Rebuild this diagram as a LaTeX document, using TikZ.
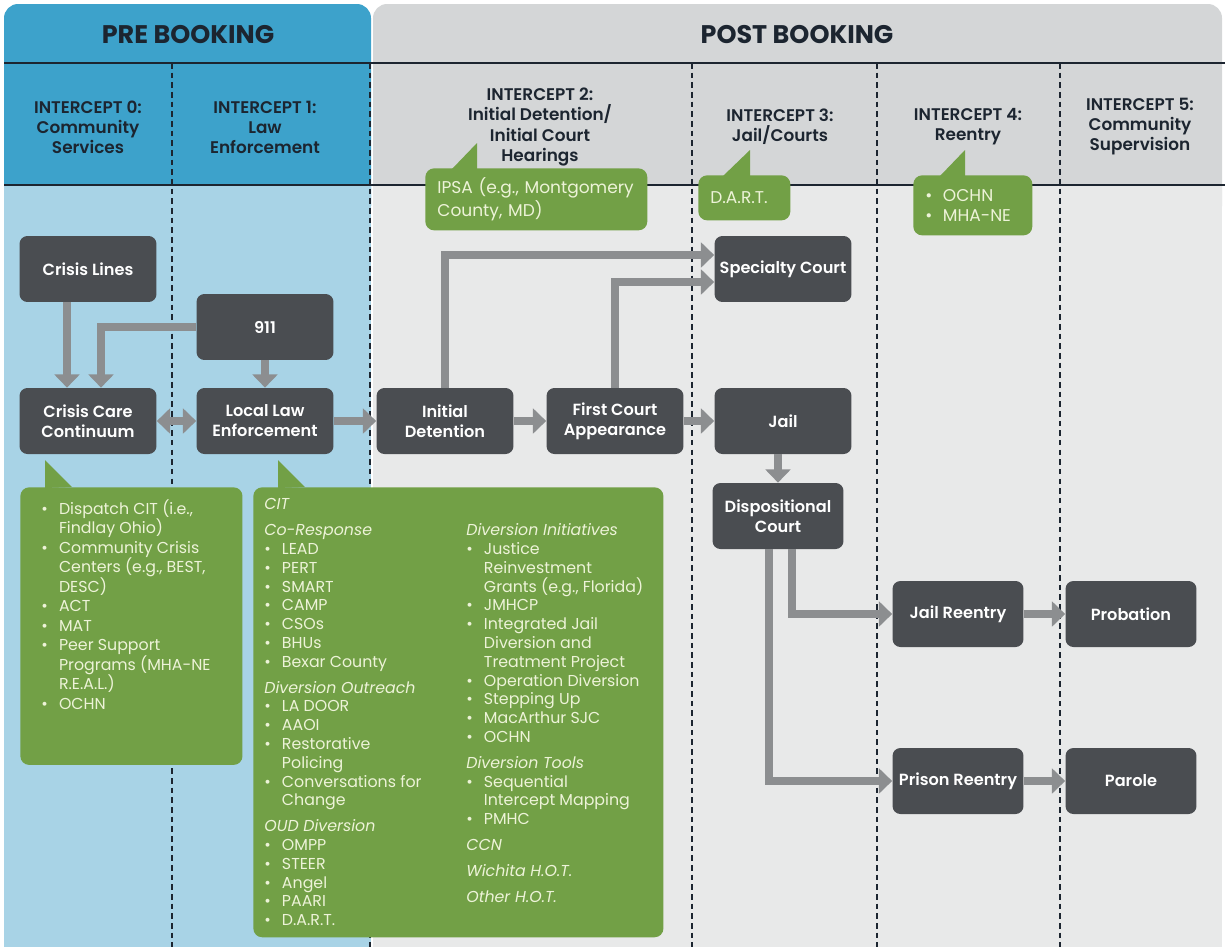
\documentclass[tikz,border=0pt]{standalone}
\usepackage{fontspec}
\setmainfont{Poppins}
\newfontfamily\semi{Poppins SemiBold}
\usetikzlibrary{arrows.meta,calc}

\definecolor{hdrblue}{HTML}{3DA2CB}
\definecolor{bodyblue}{HTML}{A8D3E6}
\definecolor{hdrgrey}{HTML}{D4D6D7}
\definecolor{bodygrey}{HTML}{E8E9E9}
\definecolor{boxgrey}{HTML}{4A4D51}
\definecolor{arrgrey}{HTML}{8C8E90}
\definecolor{leaf}{HTML}{72A046}
\definecolor{leaftext}{HTML}{EDF3D8}
\definecolor{ink}{HTML}{1C2530}

\newcommand\bl{\makebox[10pt][l]{\textbullet}}
\newcommand\ind{\hspace*{10pt}}

\begin{document}
\begin{tikzpicture}[x=0.02cm,y=-0.02cm,
	stage/.style={fill=boxgrey, text=white, rounded corners=4.5pt, minimum width=2.74cm, minimum height=1.32cm, align=center, inner sep=2pt, font=\semi\fontsize{9.2}{11.4}\selectfont},
	flow/.style={draw=arrgrey, line width=4.2pt, -{Triangle[width=14pt,length=7.5pt]}},
	twoway/.style={flow, {Triangle[width=14pt,length=7.5pt]}-{Triangle[width=14pt,length=7.5pt]}},
	note/.style={fill=leaf, text=leaftext, rounded corners=5pt, anchor=north west, align=left, inner xsep=6.5pt},
	tail/.style={fill=leaf},
	divider/.style={draw=ink, line width=0.9pt, dash pattern=on 3.2pt off 2.3pt},
	title/.style={text=ink, font=\bfseries\fontsize{14.5}{16}\selectfont},
	icpt/.style={text=ink, align=center, font=\semi\fontsize{9.6}{11.4}\selectfont}]
	\useasboundingbox (0,0) rectangle (1225,947);

	\fill[hdrblue, rounded corners=8pt] (4,4) rectangle (371,220);
	\fill[bodyblue] (4,185) rectangle (371,947);
	\fill[hdrgrey, rounded corners=8pt] (373,4) rectangle (1222,220);
	\fill[bodygrey] (373,185) rectangle (1222,947);
	\draw[ink, line width=1.6pt] (4,63) -- (1225,63);
	\draw[ink, line width=1.6pt] (4,185) -- (1225,185);
	\foreach \x in {172,370,692,877,1060}
		\draw[divider] (\x,63) -- (\x,947);

	\node[title] (prehead) at (188,35) {PRE BOOKING};
	\node[title] (posthead) at (797,35) {POST BOOKING};
	\node[icpt] (i0) at (88,127) {INTERCEPT 0:\\Community\\Services};
	\node[icpt] (i1) at (265,127) {INTERCEPT 1:\\Law\\Enforcement};
	\node[icpt] (i2) at (540,127) {INTERCEPT 2:\\Initial Detention/\\Initial Court\\Hearings};
	\node[icpt] (i3) at (780,127) {INTERCEPT 3:\\Jail/Courts};
	\node[icpt] (i4) at (968,127) {INTERCEPT 4:\\Reentry};
	\node[icpt] (i5) at (1140,127) {INTERCEPT 5:\\Community\\Supervision};

	\node[stage] (cl) at (88,269) {Crisis Lines};
	\node[stage] (n911) at (265,327) {911};
	\node[stage] (ccc) at (88,421) {Crisis Care\\Continuum};
	\node[stage] (lle) at (265,421) {Local Law\\Enforcement};
	\node[stage] (idet) at (445,421) {Initial\\Detention};
	\node[stage] (fca) at (615,421) {First Court\\Appearance};
	\node[stage] (spc) at (783,269) {Specialty Court};
	\node[stage] (jail) at (783,421) {Jail};
	\node[stage, minimum width=2.62cm] (dispo) at (778,516) {Dispositional\\Court};
	\node[stage, minimum width=2.62cm] (jre) at (958,614) {Jail Reentry};
	\node[stage, minimum width=2.62cm] (prob) at (1131,614) {Probation};
	\node[stage, minimum width=2.62cm] (prisre) at (958,781) {Prison Reentry};
	\node[stage, minimum width=2.62cm] (parole) at (1131,781) {Parole};

	\draw[flow] ($(cl.south)+(-21,0)$) -- ($(ccc.north)+(-21,0)$);
	\draw[flow] (n911.west) -| ($(ccc.north)+(13,0)$);
	\draw[flow] (n911) -- (lle);
	\draw[twoway] (ccc) -- (lle);
	\draw[flow] (lle) -- (idet);
	\draw[flow] (idet) -- (fca);
	\draw[flow] (fca) -- (jail);
	\draw[flow] (idet.north) |- ($(spc.west)+(0,-14)$);
	\draw[flow] (fca.north) |- ($(spc.west)+(0,13)$);
	\draw[flow] (dispo.north |- jail.south) -- (dispo.north);
	\draw[flow] ($(dispo.south)+(14,0)$) |- (jre.west);
	\draw[flow] ($(dispo.south)+(-9,0)$) |- (prisre.west);
	\draw[flow] (jre) -- (prob);
	\draw[flow] (prisre) -- (parole);

	\node[note, minimum width=4.44cm, minimum height=1.24cm, text width=3.96cm, font=\fontsize{9.7}{11.4}\selectfont] (ipsa) at (425,168) {IPSA (e.g., Montgomery\\County, MD)};
	\fill[tail] ($(ipsa.north west)+(27,1)$) -- ++(25,-26) -- ++(0,26) -- cycle;
	\node[note, minimum width=1.84cm, minimum height=0.9cm, text width=1.36cm, font=\fontsize{9.7}{11.4}\selectfont] (dart) at (698,175) {D.A.R.T.};
	\fill[tail] ($(dart.north west)+(25,1)$) -- ++(27,-26) -- ++(0,26) -- cycle;
	\node[note, minimum width=2.38cm, minimum height=1.2cm, text width=1.9cm, font=\fontsize{9.7}{11.4}\selectfont] (reent) at (913,175) {\bl OCHN\\\bl MHA-NE};
	\fill[tail] ($(reent.north west)+(27,1)$) -- ++(25,-26) -- ++(0,26) -- cycle;

	\node[note, inner xsep=12pt, inner ysep=7pt] (ccclist) at (20,487) {\parbox[t][5.06cm][t]{3.6cm}{\raggedright\fontsize{9}{11.1}\selectfont
		\bl Dispatch CIT (i.e.,\\ \ind Findlay Ohio)\\ \bl Community Crisis\\ \ind Centers (e.g., BEST,\\ \ind DESC)\\
		\bl ACT\\ \bl MAT\\ \bl Peer Support\\ \ind Programs (MHA-NE\\ \ind R.E.A.L.)\\ \bl OCHN}};
	\fill[tail] ($(ccclist.north west)+(25,1)$) -- ++(0,-28) -- ++(27,27) -- cycle;

	\node[note, minimum height=9cm, inner xsep=6.3pt] (lawlist) at (253,487) {%
		\begin{minipage}[t]{4.04cm}\raggedright\fontsize{9}{10.7}\selectfont
		\textit{CIT}\\[4pt]
		\textit{Co-Response}\\
		\bl LEAD\\ \bl PERT\\ \bl SMART\\ \bl CAMP\\ \bl CSOs\\ \bl BHUs\\ \bl Bexar County\\[4pt]
		\textit{Diversion Outreach}\\
		\bl LA DOOR\\ \bl AAOI\\ \bl Restorative\\ \ind Policing\\ \bl Conversations for\\ \ind Change\\[4pt]
		\textit{OUD Diversion}\\
		\bl OMPP\\ \bl STEER\\ \bl Angel\\ \bl PAARI\\ \bl D.A.R.T.
		\end{minipage}%
		\begin{minipage}[t]{3.72cm}\raggedright\fontsize{9}{10.7}\selectfont
		\mbox{}\\[4pt]
		\textit{Diversion Initiatives}\\
		\bl Justice\\ \ind Reinvestment\\ \ind Grants (e.g., Florida)\\ \bl JMHCP\\ \bl Integrated Jail\\ \ind Diversion and\\ \ind Treatment Project\\
		\bl Operation Diversion\\ \bl Stepping Up\\ \bl MacArthur SJC\\ \bl OCHN\\[4pt]
		\textit{Diversion Tools}\\
		\bl Sequential\\ \ind Intercept Mapping\\ \bl PMHC\\[4pt]
		\textit{CCN}\\[4pt]
		\textit{Wichita H.O.T.}\\[4pt]
		\textit{Other H.O.T.}
		\end{minipage}};
	\fill[tail] ($(lawlist.north west)+(25,1)$) -- ++(0,-28) -- ++(27,27) -- cycle;
\end{tikzpicture}
\end{document}
